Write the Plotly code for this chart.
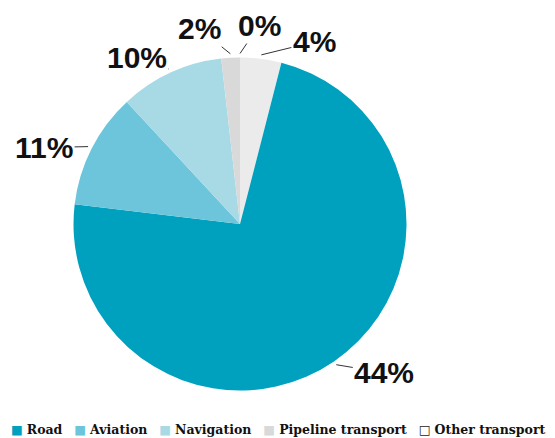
import math
import plotly.graph_objects as go

# ---- data ----
categories = ["Unallocated", "Road", "Aviation", "Navigation", "Pipeline transport", "Other transport"]
shares = [4.0, 72.9, 11.2, 10.1, 1.8, 0.0]
label_texts = ["4%", "44%", "11%", "10%", "2%", "0%"]
legend_items = ["Road", "Aviation", "Navigation", "Pipeline transport", "Other transport"]

# ---- style ----
colors = ["#ebebeb", "#00a1bf", "#6cc5da", "#a8dae6", "#d9d9d9", "#ffffff"]
label_offsets = [(53, -13), (48, 8), (-44, 1), (-32, -12), (-31, -25), (19, -28)]

W, H = 555, 438
cx, cy, R = 240, 224, 166.5

fig = go.Figure(
    go.Pie(
        labels=categories,
        values=shares,
        sort=False,
        direction="clockwise",
        rotation=0,
        marker=dict(colors=colors, line=dict(width=0)),
        textinfo="none",
        hoverinfo="label+percent",
        showlegend=False,
        domain=dict(x=[(cx - R) / W, (cx + R) / W], y=[(H - cy - R) / H, (H - cy + R) / H]),
    )
)

annotations = []
total = sum(shares)
cum = 0.0
for i, v in enumerate(shares):
    mid = (cum + v / 2) / total * 2 * math.pi
    cum += v
    px = cx + (R + 4) * math.sin(mid)
    py = cy - (R + 4) * math.cos(mid)
    annotations.append(
        dict(
            x=px / W, y=1 - py / H, xref="paper", yref="paper",
            text=f"<b>{label_texts[i]}</b>", showarrow=True, arrowhead=0, arrowwidth=1,
            arrowcolor="#333333", ax=label_offsets[i][0], ay=label_offsets[i][1],
            standoff=0, startstandoff=0,
            font=dict(family="Liberation Sans", size=30, color="#111111"),
        )
    )

parts = []
for name in legend_items:
    c = colors[categories.index(name)]
    if c.lower() == "#ffffff":
        mk = "<span style='color:#222222'>□</span>"
    else:
        mk = f"<span style='color:{c}'>■</span>"
    parts.append(f"{mk} <b>{name}</b>")
legend_text = ("\u00a0" * 3).join(parts)
annotations.append(
    dict(
        x=0.5, y=1 - 429 / H, xref="paper", yref="paper", xanchor="center", yanchor="middle",
        text=legend_text, showarrow=False,
        font=dict(family="DejaVu Serif", size=12.5, color="#111111"),
    )
)

fig.update_layout(
    width=W, height=H,
    margin=dict(l=0, r=0, t=0, b=0),
    paper_bgcolor="white", plot_bgcolor="white",
    annotations=annotations,
    showlegend=False,
)

fig.write_html("out.html")
